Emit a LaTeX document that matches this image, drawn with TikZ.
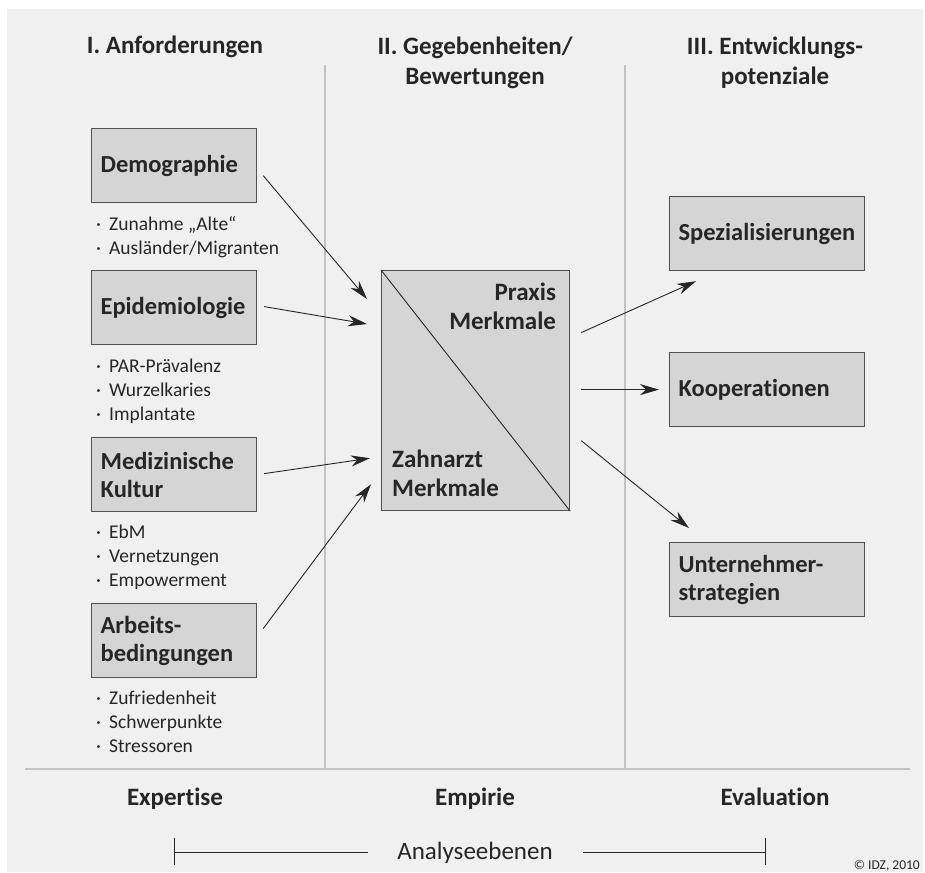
\documentclass[tikz,border=0pt]{standalone}
\usepackage{fontspec}
\setmainfont{Carlito}[Ligatures=NoCommon]
\usetikzlibrary{calc,positioning,arrows.meta}
\definecolor{bggray}{HTML}{F0F0F0}
\definecolor{boxgray}{HTML}{D5D5D5}
\definecolor{rulegray}{HTML}{C2C2C2}
\definecolor{inkgray}{HTML}{262626}

\begin{document}
\begin{tikzpicture}[x=1pt,y=-1pt,
    box/.style={draw=inkgray!80, line width=1.2pt, fill=boxgray, anchor=north west,
        minimum height=74pt, inner xsep=9pt, align=left, text=inkgray,
        font=\fontsize{24.5}{28}\selectfont\bfseries},
    lbox/.style={box, minimum width=165pt, text width=147pt},
    rbox/.style={box, minimum width=195pt, text width=177pt},
    item/.style={anchor=base west, inner sep=0pt, text=inkgray,
        font=\fontsize{19.5}{24}\selectfont},
    head/.style={anchor=base, inner sep=0pt, text=inkgray, align=center,
        font=\fontsize{25}{30.5}\selectfont\bfseries},
    arr/.style={-{Stealth[length=19pt,width=11pt,inset=6pt]}, line width=0.9pt, draw=inkgray}]

    % Background and frame lines
    \useasboundingbox (0,0) rectangle (925,872);
    \fill[bggray] (7,9) rectangle (923,872);
    \draw[rulegray, line width=2.5pt] (325,65) -- (325,769);
    \draw[rulegray, line width=2.5pt] (625,65) -- (625,769);
    \draw[rulegray, line width=2.5pt] (25,769) -- (910,769);

    % Column heads
    \node[head] (h1) at (175,54) {I. Anforderungen};
    \node[head] (h2) at (475,85) {II. Gegebenheiten/\\Bewertungen};
    \node[head] (h3) at (775,85) {III. Entwicklungs-\\potenziale};

    % Left column: requirements
    \node[lbox] (demo) at (91,128) {Demographie};
    \node[lbox] (epi) at (91,270) {Epidemiologie};
    \node[lbox] (med) at (91,437) {Medizinische\\Kultur};
    \node[lbox] (arb) at (91,603) {Arbeits-\\bedingungen};

    \foreach \t [count=\k] in {Zunahme „Alte“, Ausländer/Migranten}
        \node[item] (demo-\k) at (96,{206+24*\k}) {\makebox[13pt][l]{·}\t};
    \foreach \t [count=\k] in {PAR-Prävalenz, Wurzelkaries, Implantate}
        \node[item] (epi-\k) at (96,{348+24*\k}) {\makebox[13pt][l]{·}\t};
    \foreach \t [count=\k] in {EbM, Vernetzungen, Empowerment}
        \node[item] (med-\k) at (96,{514+24*\k}) {\makebox[13pt][l]{·}\t};
    \foreach \t [count=\k] in {Zufriedenheit, Schwerpunkte, Stressoren}
        \node[item] (arb-\k) at (96,{680+24*\k}) {\makebox[13pt][l]{·}\t};

    % Middle: practice and dentist
    \node[draw=inkgray!80, line width=1.2pt, fill=boxgray, anchor=north west,
        minimum width=188pt, minimum height=240pt] (mid) at (381,270) {};
    \draw[inkgray, line width=0.9pt] (mid.north west) -- (mid.south east);
    \node[head, anchor=base east, align=right, font=\fontsize{25}{29}\selectfont\bfseries]
        (praxis) at ([shift={(-14,59)}]mid.north east) {Praxis\\Merkmale};
    \node[head, anchor=base west, align=left, font=\fontsize{25}{29}\selectfont\bfseries]
        (zahnarzt) at ([shift={(11,-15)}]mid.south west) {Zahnarzt\\Merkmale};

    % Right column: potentials
    \node[rbox] (spez) at (669,196) {Spezialisierungen};
    \node[rbox] (koop) at (669,352) {Kooperationen};
    \node[rbox] (untern) at (669,542) {Unternehmer-\\strategien};

    % Arrows into the middle box
    \draw[arr] ($(demo.east)+(6,10)$) -- ($(mid.north west)+(-14,29)$);
    \draw[arr] ($(epi.east)+(7,-1)$) -- ($(mid.north west)+(-14,54)$);
    \draw[arr] ($(med.east)+(7,-1)$) -- ($(mid.south west)+(-11,-53)$);
    \draw[arr] ($(arb.east)+(6,-12)$) -- ($(mid.south west)+(-10,-27)$);

    % Arrows out of the middle box
    \draw[arr] ($(mid.east)+(11,-58)$) -- ($(spez.south west)+(27,10)$);
    \draw[arr] ($(mid.east)+(11,-1)$) -- ($(koop.west)+(-10,0)$);
    \draw[arr] ($(mid.east)+(11,50)$) -- ($(untern.north west)+(20,-14)$);

    % Levels of analysis
    \node[head] (expertise) at (175,805) {Expertise};
    \node[head] (empirie) at (475,805) {Empirie};
    \node[head] (evaluation) at (775,805) {Evaluation};

    \node[anchor=base, inner sep=0pt, text=inkgray, font=\fontsize{25}{28}\selectfont]
        (ebenen) at (475,859) {Analyseebenen};
    \coordinate (bl) at (174,852);
    \coordinate (br) at (765,852);
    \draw[inkgray, line width=0.9pt] (bl) -- ([xshift=-29pt]ebenen.west |- bl);
    \draw[inkgray, line width=0.9pt] ([xshift=30pt]ebenen.east |- br) -- (br);
    \draw[inkgray, line width=0.9pt] ([yshift=-13pt]bl) -- ([yshift=14pt]bl);
    \draw[inkgray, line width=0.9pt] ([yshift=-13pt]br) -- ([yshift=14pt]br);

    \node[anchor=base east, inner sep=0pt, text=inkgray, font=\fontsize{13.5}{15}\selectfont]
        (copy) at (920,869) {© IDZ, 2010};
\end{tikzpicture}
\end{document}
